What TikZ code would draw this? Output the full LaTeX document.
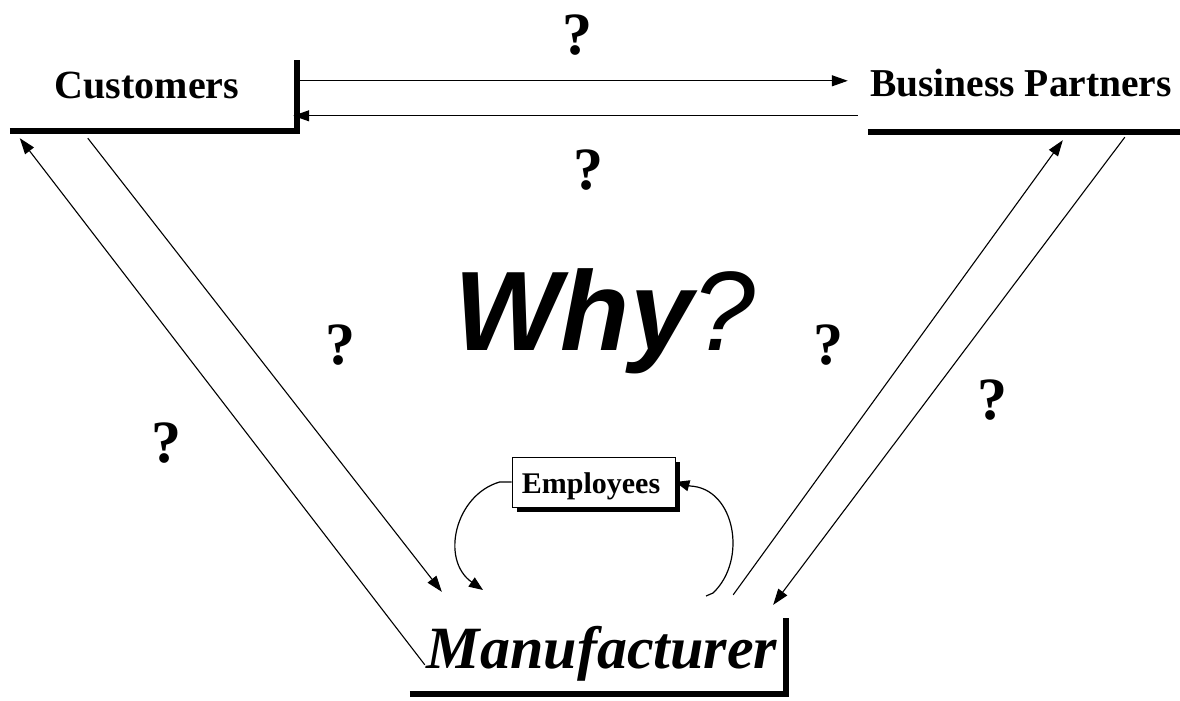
\documentclass[tikz,border=0pt]{standalone}
\usepackage{fontspec}
\setmainfont{Liberation Serif}
\setsansfont{Liberation Sans}
\usetikzlibrary{arrows.meta, shadows}

\begin{document}
\begin{tikzpicture}[
    x=1pt, y=-1pt,
    % Estilo para las flechas rectas (finas, punta triangular)
    flecha/.style={line width=1.1pt, -{Triangle[length=16pt, width=11pt]}},
    % Estilo para las flechas curvas de los empleados
    flechaCurva/.style={line width=1.2pt, -{Triangle[length=14pt, width=11pt]}},
    % Cajas invisibles: solo se ve la sombra en L
    caja/.style={inner sep=0pt},
    sombra/.style={line width=6pt},
    % Textos de las cajas
    textoCaja/.style={anchor=base, font=\bfseries\fontsize{40}{42}\selectfont},
    % Signos de interrogacion
    interroga/.style={font=\bfseries\fontsize{60}{62}\selectfont},
    % Caja de los empleados (con sombra negra)
    cajaEmpleados/.style={
        draw, fill=white, thick, inner sep=0pt,
        minimum width=163pt, minimum height=50pt,
        general shadow={shadow xshift=5pt, shadow yshift=-5pt, fill=black}
    }
]
    \useasboundingbox (0,0) rectangle (1180,701);

    % 1. CAJAS
    \node[caja, minimum width=287pt, minimum height=71pt] (clientes) at (153.5,95.5) {};
    \node[caja, minimum width=312pt, minimum height=72pt] (socios) at (1024,96) {};
    \node[caja, minimum width=376pt, minimum height=76pt] (fabricante) at (598,656) {};
    \node[cajaEmpleados] (empleados) at (593.5,482) {};

    % 2. SOMBRAS EN L
    \draw[sombra] (clientes.south west) -- (clientes.south east) -- (clientes.north east);
    \draw[sombra] (socios.south west) -- (socios.south east);
    \draw[sombra] (fabricante.south west) -- (fabricante.south east) -- (fabricante.north east);

    % 3. Textos
    \node[textoCaja] (txtClientes) at (147,98) {Customers};
    \node[textoCaja, font=\bfseries\fontsize{39.5}{42}\selectfont] (txtSocios) at (1021,96) {Business Partners};
    \node[textoCaja, font=\bfseries\itshape\fontsize{60}{62}\selectfont] (txtFabricante) at (602,668) {Manufacturer};
    \node[anchor=base, font=\bfseries\fontsize{30}{32}\selectfont] (txtEmpleados) at (591,493) {Employees};
    \node[anchor=base, font=\sffamily\bfseries\itshape\fontsize{113}{116}\selectfont] (porque) at (605,350) {Why\mdseries?};

    % 4. Flechas horizontales
    \draw[flecha] ([shift={(3,21)}]clientes.north east) -- ([shift={(-20,21)}]socios.north west);
    \draw[flecha] ([shift={(-10,56)}]socios.north west) -- ([shift={(-4,56)}]clientes.north east);

    % 5. Flechas oblicuas
    \draw[flecha] ([shift={(15,47)}]fabricante.north west) -- ([shift={(10,7)}]clientes.south west);
    \draw[flecha] ([shift={(78,7)}]clientes.south west) -- ([shift={(32,-26)}]fabricante.north west);
    \draw[flecha] ([shift={(-53,-23)}]fabricante.north east) -- ([shift={(195,8)}]socios.south west);
    \draw[flecha] ([shift={(257,5)}]socios.south west) -- ([shift={(-13,-13)}]fabricante.north east);

    % 6. Flechas curvas (empleados)
    \draw[flechaCurva] (empleados.west) -- ++(-12,0)
        .. controls (455,495) and (440,560) .. (483,590);
    \draw[flechaCurva] (706,596) -- (713,593)
        .. controls (748,560) and (735,488) .. (690,486) -- (empleados.east);

    % 7. Interrogaciones
    \node[interroga] (q1) at (577,35) {?};
    \node[interroga] (q2) at (588,170) {?};
    \node[interroga] (q3) at (340,345) {?};
    \node[interroga] (q4) at (166,443) {?};
    \node[interroga] (q5) at (828,345) {?};
    \node[interroga] (q6) at (992,400) {?};
\end{tikzpicture}
\end{document}
